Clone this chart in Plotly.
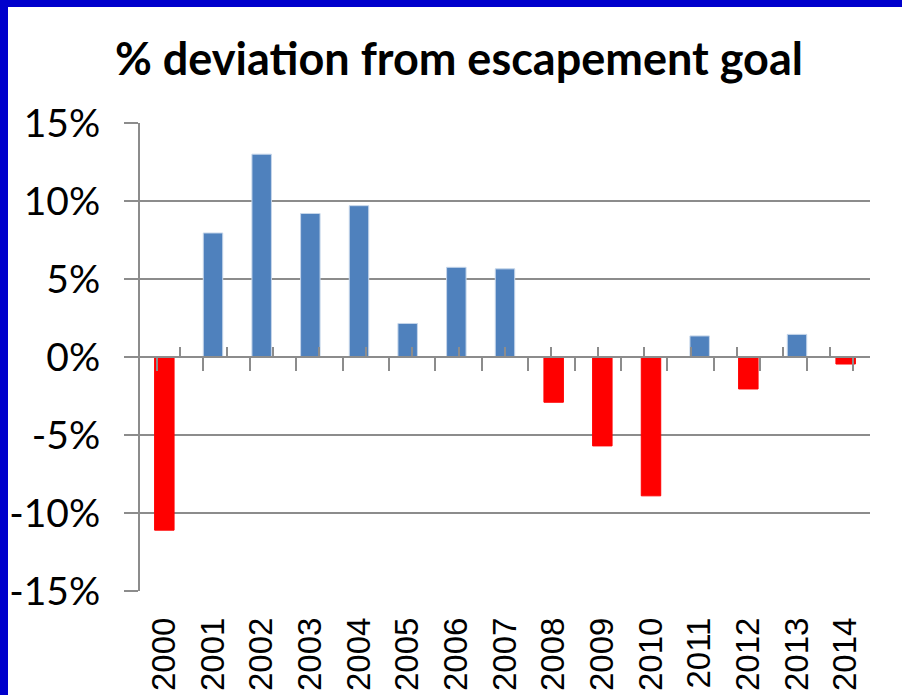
"""
plot.py — % deviation from escapement goal, 2000-2014.
"""
import plotly.graph_objects as go

# ── Data ────────────────────────────────────────────────────────────────────
YEARS = ["2000", "2001", "2002", "2003", "2004", "2005", "2006", "2007",
         "2008", "2009", "2010", "2011", "2012", "2013", "2014"]
DEVIATION = [-11.1, 7.95, 13.0, 9.2, 9.7, 2.15, 5.75, 5.65,
             -2.9, -5.7, -8.9, 1.35, -2.05, 1.45, -0.45]

Y_TICK_VALUES = [-15, -10, -5, 0, 5, 10, 15]
Y_TICK_LABELS = ["-15%", "-10%", "-5%", "0%", "5%", "10%", "15%"]

TITLE = "% deviation from escapement goal"

# ── Styling ─────────────────────────────────────────────────────────────────
POS_COLOR = "#4F81BD"
NEG_COLOR = "#FF0000"
AXIS_GRAY = "#8C8C8C"
BORDER_BLUE = "#0000CC"
FONT = "Lato, 'Open Sans', sans-serif"
X_FONT = "'Liberation Sans', Arial, sans-serif"

W, H = 902, 695
M_L, M_R, M_T, M_B = 140, 32, 123, 104
PLOT_W = W - M_L - M_R
PLOT_H = H - M_T - M_B

y_min, y_max = Y_TICK_VALUES[0], Y_TICK_VALUES[-1]
zero_pos = (0 - y_min) / (y_max - y_min)


def px_to_paper_x(px):
    return (px - M_L) / PLOT_W


def px_to_paper_y(py):
    return (H - M_B - py) / PLOT_H


bar_colors = [POS_COLOR if v >= 0 else NEG_COLOR for v in DEVIATION]
line_colors = ["#C6D6EA" if v >= 0 else NEG_COLOR for v in DEVIATION]

fig = go.Figure()
fig.add_trace(go.Bar(
    x=YEARS,
    y=DEVIATION,
    marker=dict(color=bar_colors, line=dict(color=line_colors, width=1)),
    hovertemplate="%{x}: %{y:.1f}%<extra></extra>",
    showlegend=False,
))
# invisible helpers so the zero-line axes get the same categories
for xa in ("x2", "x3"):
    fig.add_trace(go.Scatter(
        x=YEARS, y=DEVIATION, xaxis=xa, mode="markers",
        marker=dict(opacity=0), hoverinfo="skip", showlegend=False,
    ))

fig.update_layout(
    width=W,
    height=H,
    margin=dict(l=M_L, r=M_R, t=M_T, b=M_B, autoexpand=False),
    paper_bgcolor="white",
    plot_bgcolor="white",
    bargap=0.6,
    title=dict(
        text=TITLE,
        x=px_to_paper_x(459), xref="paper", xanchor="center",
        y=1 - 59 / H, yref="container", yanchor="middle",
        font=dict(family=FONT, size=45, color="black", weight="bold"),
    ),
    xaxis=dict(
        type="category", automargin=False,
        showline=False, showgrid=False, zeroline=False,
        ticks="", tickangle=-90,
        ticklabelstandoff=19,
        tickfont=dict(family=X_FONT, size=33, color="black"),
    ),
    # zero line: boundary ticks below
    xaxis2=dict(
        type="category", overlaying="x", anchor="free", position=zero_pos,
        side="bottom", showline=True, linecolor=AXIS_GRAY, linewidth=2,
        showgrid=False, zeroline=False, showticklabels=False, automargin=False,
        ticks="outside", tickson="boundaries", ticklen=13,
        tickcolor=AXIS_GRAY, tickwidth=2,
    ),
    # zero line: centre ticks above
    xaxis3=dict(
        type="category", overlaying="x", anchor="free", position=zero_pos,
        side="bottom", showline=False, automargin=False,
        showgrid=False, zeroline=False, showticklabels=False,
        ticks="inside", tickson="labels", ticklen=10,
        tickcolor=AXIS_GRAY, tickwidth=2,
    ),
    yaxis=dict(
        range=[y_min, y_max], automargin=False,
        tickvals=Y_TICK_VALUES, ticktext=Y_TICK_LABELS,
        showline=True, linecolor=AXIS_GRAY, linewidth=2,
        showgrid=True, gridcolor=AXIS_GRAY, gridwidth=2,
        zeroline=False,
        ticks="outside", ticklen=14, tickcolor=AXIS_GRAY, tickwidth=2,
        ticklabelstandoff=16,
        tickfont=dict(family=FONT, size=39, color="black"),
    ),
    shapes=[
        # blue frame on the left and top edge
        dict(type="rect", xref="paper", yref="paper", layer="above",
             x0=px_to_paper_x(0), x1=px_to_paper_x(8),
             y0=px_to_paper_y(H + 5), y1=px_to_paper_y(-5),
             fillcolor=BORDER_BLUE, line=dict(width=0)),
        dict(type="rect", xref="paper", yref="paper", layer="above",
             x0=px_to_paper_x(0), x1=px_to_paper_x(W + 5),
             y0=px_to_paper_y(7), y1=px_to_paper_y(-5),
             fillcolor=BORDER_BLUE, line=dict(width=0)),
    ],
)

fig.write_html(
    "out.html",
    config={"displayModeBar": False},
    post_script="document.body.style.margin='0';"
                "document.body.style.overflow='hidden';",
)
